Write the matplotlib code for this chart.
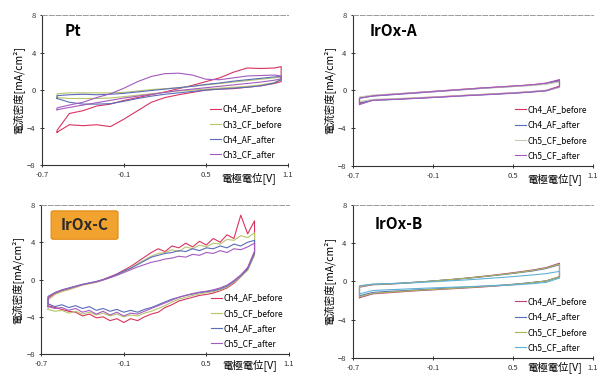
import matplotlib
matplotlib.use('Agg')
import matplotlib.pyplot as plt
from matplotlib.patches import FancyBboxPatch

plt.rcParams['font.family'] = ['Noto Sans CJK JP', 'DejaVu Sans']

# ---- data ----
# Pt panel, potential grid [V]
pt_E = [-0.59, -0.5, -0.4, -0.3, -0.2, -0.1, 0.0, 0.1, 0.2, 0.3, 0.4, 0.5, 0.6, 0.7, 0.8, 0.9, 1.0, 1.05]
pt_ch4_af_before_lo = [-4.5, -3.7, -3.8, -3.7, -3.9, -3.1, -2.2, -1.3, -0.8, -0.5, -0.25, 0.0, 0.1, 0.15, 0.3, 0.45, 0.7, 0.9]
pt_ch4_af_before_hi = [-4.3, -2.5, -2.2, -1.7, -1.5, -1.1, -0.8, -0.5, -0.2, 0.15, 0.5, 0.9, 1.3, 1.9, 2.35, 2.3, 2.35, 2.5]
pt_ch3_cf_before_lo = [-0.8, -0.9, -0.9, -0.9, -0.85, -0.7, -0.55, -0.4, -0.25, -0.1, 0.0, 0.1, 0.2, 0.3, 0.4, 0.55, 0.8, 1.2]
pt_ch3_cf_before_hi = [-0.4, -0.3, -0.3, -0.3, -0.3, -0.25, -0.1, 0.05, 0.15, 0.25, 0.4, 0.55, 0.7, 0.85, 1.0, 1.15, 1.3, 1.4]
pt_ch4_af_after_lo = [-0.9, -1.3, -1.5, -1.5, -1.45, -1.2, -0.9, -0.65, -0.45, -0.3, -0.15, 0.0, 0.1, 0.2, 0.3, 0.45, 0.75, 1.1]
pt_ch4_af_after_hi = [-0.6, -0.5, -0.45, -0.5, -0.45, -0.35, -0.2, -0.05, 0.1, 0.25, 0.4, 0.6, 0.75, 0.95, 1.1, 1.25, 1.4, 1.45]
pt_ch3_cf_after_lo = [-2.1, -1.85, -1.6, -1.35, -1.1, -0.85, -0.65, -0.45, -0.25, -0.05, 0.1, 0.25, 0.4, 0.55, 0.7, 0.85, 1.05, 1.2]
pt_ch3_cf_after_hi = [-1.9, -1.6, -1.3, -0.8, -0.4, 0.2, 0.9, 1.45, 1.75, 1.8, 1.6, 1.15, 1.1, 1.3, 1.5, 1.55, 1.6, 1.5]

# IrOx-A / IrOx-B potential grid [V]
ab_E = [-0.65, -0.55, -0.45, -0.35, -0.25, -0.15, -0.05, 0.05, 0.15, 0.25, 0.35, 0.45, 0.55, 0.65, 0.75, 0.85]

a_ch4_af_before_hi = [-0.75, -0.55, -0.45, -0.35, -0.25, -0.15, -0.05, 0.05, 0.15, 0.25, 0.33, 0.42, 0.5, 0.6, 0.75, 1.1]
a_ch4_af_before_lo = [-1.4, -1.0, -0.95, -0.9, -0.82, -0.75, -0.68, -0.6, -0.52, -0.45, -0.38, -0.3, -0.22, -0.12, 0.0, 0.45]
a_ch4_af_after_hi = [-0.8, -0.6, -0.5, -0.4, -0.3, -0.2, -0.1, 0.0, 0.1, 0.2, 0.3, 0.38, 0.47, 0.57, 0.72, 1.0]
a_ch4_af_after_lo = [-1.3, -1.05, -1.0, -0.93, -0.86, -0.79, -0.72, -0.64, -0.56, -0.49, -0.42, -0.34, -0.26, -0.16, -0.05, 0.35]
a_ch5_cf_before_hi = [-0.7, -0.5, -0.42, -0.33, -0.24, -0.15, -0.06, 0.03, 0.12, 0.2, 0.28, 0.36, 0.44, 0.53, 0.65, 0.9]
a_ch5_cf_before_lo = [-1.2, -0.95, -0.9, -0.85, -0.78, -0.72, -0.65, -0.58, -0.5, -0.43, -0.36, -0.28, -0.2, -0.1, 0.02, 0.3]
a_ch5_cf_after_hi = [-0.85, -0.58, -0.47, -0.37, -0.27, -0.17, -0.07, 0.03, 0.13, 0.23, 0.32, 0.41, 0.5, 0.61, 0.78, 1.15]
a_ch5_cf_after_lo = [-1.5, -1.05, -0.98, -0.92, -0.85, -0.78, -0.7, -0.62, -0.54, -0.47, -0.4, -0.32, -0.24, -0.14, -0.02, 0.4]

b_ch4_af_before_hi = [-0.6, -0.35, -0.3, -0.22, -0.12, -0.02, 0.1, 0.22, 0.35, 0.5, 0.65, 0.82, 1.0, 1.2, 1.45, 1.9]
b_ch4_af_before_lo = [-1.7, -1.3, -1.2, -1.1, -1.0, -0.92, -0.84, -0.76, -0.68, -0.6, -0.5, -0.4, -0.28, -0.12, 0.05, 0.5]
b_ch4_af_after_hi = [-0.5, -0.3, -0.25, -0.18, -0.1, 0.0, 0.1, 0.2, 0.32, 0.45, 0.6, 0.75, 0.92, 1.1, 1.35, 1.75]
b_ch4_af_after_lo = [-1.5, -1.15, -1.05, -0.98, -0.9, -0.83, -0.75, -0.68, -0.6, -0.52, -0.44, -0.35, -0.24, -0.1, 0.05, 0.45]
b_ch5_cf_before_hi = [-0.55, -0.32, -0.27, -0.2, -0.11, -0.01, 0.1, 0.21, 0.33, 0.47, 0.62, 0.78, 0.95, 1.15, 1.4, 1.8]
b_ch5_cf_before_lo = [-1.6, -1.25, -1.15, -1.05, -0.96, -0.88, -0.8, -0.72, -0.64, -0.56, -0.47, -0.38, -0.26, -0.11, 0.05, 0.5]
b_ch5_cf_after_hi = [-0.45, -0.28, -0.25, -0.2, -0.14, -0.07, 0.0, 0.08, 0.16, 0.25, 0.35, 0.45, 0.56, 0.68, 0.82, 1.05]
b_ch5_cf_after_lo = [-1.3, -0.95, -0.88, -0.82, -0.76, -0.7, -0.65, -0.6, -0.55, -0.5, -0.45, -0.4, -0.33, -0.23, -0.1, 0.35]

# IrOx-C potential grid [V]
c_E = [-0.65, -0.60, -0.55, -0.50, -0.45, -0.40, -0.35, -0.30, -0.25, -0.20, -0.15, -0.10, -0.05, 0.00, 0.05, 0.10,
       0.15, 0.20, 0.25, 0.30, 0.35, 0.40, 0.45, 0.50, 0.55, 0.60, 0.65, 0.70, 0.75, 0.80, 0.85]
c_ch4_af_before_hi = [-2.0, -1.5, -1.2, -1.0, -0.8, -0.55, -0.4, -0.25, 0.0, 0.3, 0.6, 1.0, 1.4, 1.9, 2.4, 2.9,
                      3.3, 3.0, 3.6, 3.4, 3.9, 3.5, 4.1, 3.7, 4.4, 4.0, 4.8, 4.4, 6.9, 4.9, 6.3]
c_ch4_af_before_lo = [-2.8, -3.0, -3.2, -3.4, -3.5, -3.9, -3.7, -4.1, -4.0, -4.4, -4.2, -4.6, -4.2, -4.4, -4.0, -3.7,
                      -3.5, -3.0, -2.7, -2.3, -2.1, -1.9, -1.7, -1.6, -1.45, -1.2, -0.9, -0.4, 0.3, 1.2, 3.0]
c_ch5_cf_before_hi = [-2.2, -1.6, -1.3, -1.1, -0.85, -0.6, -0.45, -0.3, -0.05, 0.2, 0.5, 0.85, 1.25, 1.7, 2.1, 2.5,
                      2.8, 2.9, 3.2, 3.0, 3.5, 3.3, 3.7, 3.5, 3.9, 3.8, 4.3, 4.2, 4.7, 4.5, 5.0]
c_ch5_cf_before_lo = [-3.2, -3.4, -3.3, -3.6, -3.4, -3.7, -3.5, -3.8, -3.6, -3.9, -3.7, -4.0, -3.8, -3.9, -3.6, -3.4,
                      -3.1, -2.8, -2.4, -2.1, -1.9, -1.7, -1.55, -1.4, -1.3, -1.1, -0.8, -0.3, 0.3, 1.0, 2.6]
c_ch4_af_after_hi = [-1.8, -1.4, -1.1, -0.9, -0.7, -0.5, -0.35, -0.2, 0.0, 0.25, 0.55, 0.9, 1.2, 1.6, 2.0, 2.4,
                     2.6, 2.8, 2.9, 3.1, 3.0, 3.3, 3.1, 3.4, 3.3, 3.6, 3.4, 3.8, 3.6, 4.0, 4.2]
c_ch4_af_after_lo = [-2.6, -2.9, -2.7, -3.0, -2.8, -3.1, -2.9, -3.3, -3.1, -3.4, -3.2, -3.5, -3.3, -3.5, -3.2, -3.0,
                     -2.7, -2.4, -2.1, -1.9, -1.7, -1.55, -1.4, -1.3, -1.2, -1.0, -0.7, -0.2, 0.4, 1.1, 2.8]
c_ch5_cf_after_hi = [-1.9, -1.4, -1.15, -0.95, -0.75, -0.55, -0.4, -0.25, -0.05, 0.2, 0.45, 0.75, 1.05, 1.35, 1.6, 1.85,
                     2.0, 2.2, 2.3, 2.5, 2.4, 2.7, 2.6, 2.9, 2.8, 3.1, 2.9, 3.3, 3.2, 3.5, 3.9]
c_ch5_cf_after_lo = [-2.9, -3.1, -3.0, -3.3, -3.1, -3.5, -3.3, -3.7, -3.4, -3.8, -3.5, -3.9, -3.6, -3.7, -3.4, -3.1,
                     -2.8, -2.5, -2.2, -1.9, -1.7, -1.5, -1.35, -1.25, -1.1, -0.9, -0.6, -0.1, 0.5, 1.3, 3.0]

x_ticks = [-0.7, -0.1, 0.5, 1.1]
x_ticklabels = ['-0.7', '-0.1', '0.5', '1.1']
y_ticks = [-8, -4, 0, 4, 8]

RED = '#d8345f'
OLIVE = '#b9c46c'
BLUE = '#5a6db8'
PURPLE = '#a45bbf'


def cv_loop(ax, E, lo, hi, color, label):
    # go out along one branch, back along the other, and close the loop
    xs = list(E) + list(E[::-1]) + [E[0]]
    ys = list(lo) + list(hi[::-1]) + [lo[0]]
    ax.plot(xs, ys, color=color, lw=0.8, label=label)


def style_axes(ax, xlab_y=-0.085):
    ax.set_xlim(-0.7, 1.1)
    ax.set_ylim(-8, 8)
    ax.set_xticks(x_ticks)
    ax.set_xticklabels(x_ticklabels)
    ax.set_yticks(y_ticks)
    ax.tick_params(direction='inout', length=3, width=0.7, labelsize=5.5, pad=3, colors='#333333')
    ax.spines['right'].set_visible(False)
    ax.spines['top'].set_color('#9a9a9a')
    ax.spines['top'].set_linestyle((0, (5, 2)))
    ax.spines['top'].set_linewidth(0.7)
    for s in ['left', 'bottom']:
        ax.spines[s].set_linewidth(0.8)
        ax.spines[s].set_color('#333333')
    ax.set_ylabel('電流密度[mA/cm²]', fontsize=7.5, labelpad=2)
    ax.text(0.84, xlab_y, '電極電位[V]', transform=ax.transAxes, ha='center', va='center', fontsize=7.5)
    ax.legend(loc='lower right', bbox_to_anchor=(1.0, 0.0), frameon=False, fontsize=6,
              handlelength=1.3, handletextpad=0.2, labelspacing=0.75, borderaxespad=0.3)


fig = plt.figure(figsize=(5.97, 3.76), dpi=100)
ax_pt = fig.add_axes([0.0704, 0.561, 0.412, 0.399])
ax_a = fig.add_axes([0.591, 0.559, 0.402, 0.401])
ax_c = fig.add_axes([0.069, 0.058, 0.415, 0.397])
ax_b = fig.add_axes([0.591, 0.048, 0.402, 0.407])

# Pt
cv_loop(ax_pt, pt_E, pt_ch4_af_before_lo, pt_ch4_af_before_hi, RED, 'Ch4_AF_before')
cv_loop(ax_pt, pt_E, pt_ch3_cf_before_lo, pt_ch3_cf_before_hi, OLIVE, 'Ch3_CF_before')
cv_loop(ax_pt, pt_E, pt_ch4_af_after_lo, pt_ch4_af_after_hi, BLUE, 'Ch4_AF_after')
cv_loop(ax_pt, pt_E, pt_ch3_cf_after_lo, pt_ch3_cf_after_hi, PURPLE, 'Ch3_CF_after')
style_axes(ax_pt)
ax_pt.text(0.09, 0.86, 'Pt', transform=ax_pt.transAxes, fontsize=11, fontweight='bold')

# IrOx-A
cv_loop(ax_a, ab_E, a_ch4_af_before_lo, a_ch4_af_before_hi, RED, 'Ch4_AF_before')
cv_loop(ax_a, ab_E, a_ch4_af_after_lo, a_ch4_af_after_hi, BLUE, 'Ch4_AF_after')
cv_loop(ax_a, ab_E, a_ch5_cf_before_lo, a_ch5_cf_before_hi, '#c4cbb0', 'Ch5_CF_before')
cv_loop(ax_a, ab_E, a_ch5_cf_after_lo, a_ch5_cf_after_hi, PURPLE, 'Ch5_CF_after')
style_axes(ax_a)
ax_a.text(0.07, 0.86, 'IrOx-A', transform=ax_a.transAxes, fontsize=11, fontweight='bold')

# IrOx-C
cv_loop(ax_c, c_E, c_ch4_af_before_lo, c_ch4_af_before_hi, RED, 'Ch4_AF_before')
cv_loop(ax_c, c_E, c_ch5_cf_before_lo, c_ch5_cf_before_hi, OLIVE, 'Ch5_CF_before')
cv_loop(ax_c, c_E, c_ch4_af_after_lo, c_ch4_af_after_hi, BLUE, 'Ch4_AF_after')
cv_loop(ax_c, c_E, c_ch5_cf_after_lo, c_ch5_cf_after_hi, PURPLE, 'Ch5_CF_after')
style_axes(ax_c, xlab_y=-0.075)
box = FancyBboxPatch((0.04, 0.77), 0.27, 0.19, transform=ax_c.transAxes, boxstyle='round,pad=0.0,rounding_size=0.01',
                     facecolor='#f2a22e', edgecolor='#e08a10', lw=0.8, zorder=5)
ax_c.add_patch(box)
ax_c.text(0.175, 0.865, 'IrOx-C', transform=ax_c.transAxes, fontsize=11, fontweight='bold',
          ha='center', va='center', color='#2a2a2a', zorder=6)

# IrOx-B
cv_loop(ax_b, ab_E, b_ch4_af_before_lo, b_ch4_af_before_hi, '#b8427e', 'Ch4_AF_before')
cv_loop(ax_b, ab_E, b_ch4_af_after_lo, b_ch4_af_after_hi, BLUE, 'Ch4_AF_after')
cv_loop(ax_b, ab_E, b_ch5_cf_before_lo, b_ch5_cf_before_hi, '#a8b45a', 'Ch5_CF_before')
cv_loop(ax_b, ab_E, b_ch5_cf_after_lo, b_ch5_cf_after_hi, '#5fb2d6', 'Ch5_CF_after')
style_axes(ax_b, xlab_y=-0.06)
ax_b.text(0.09, 0.84, 'IrOx-B', transform=ax_b.transAxes, fontsize=11, fontweight='bold')

fig.savefig('out.png', dpi=100)
